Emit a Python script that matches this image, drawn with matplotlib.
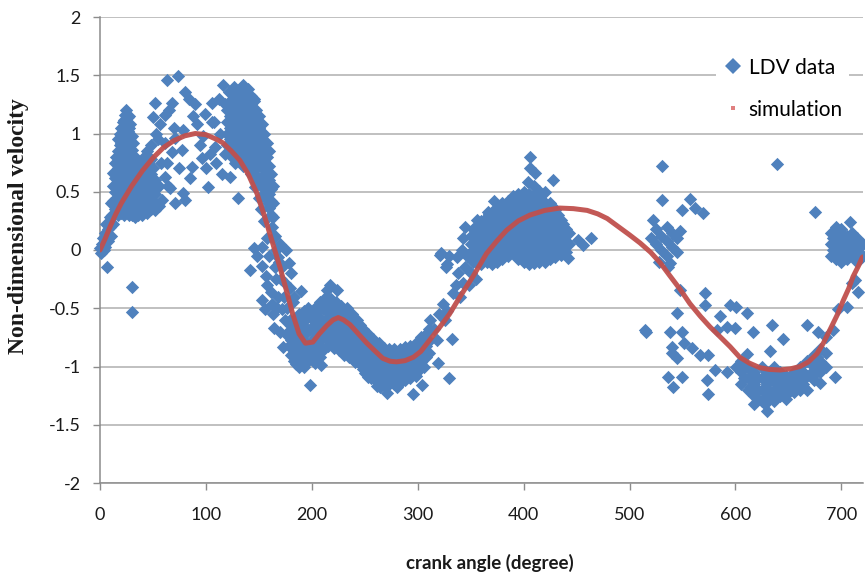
import matplotlib
matplotlib.use("Agg")
import matplotlib.pyplot as plt
from matplotlib.lines import Line2D

# ---------------- data ----------------
# LDV measurement points: (crank angle [deg], non-dimensional velocity)
ldv_points = [
    # start tail
    (0, 0.02), (1, -0.03), (2, 0.05), (3, 0.1), (4, 0.0), (5, 0.15), (6, 0.08), (7, -0.15),
    (6, 0.22), (8, 0.18), (9, 0.28), (10, 0.12), (11, 0.3), (12, 0.22), (10, 0.4),
    (12, 0.42), (12, 0.55), (12, 0.66), (30, -0.32), (30, -0.53),
    (3, 0.05), (5, 0.03), (8, 0.08), (9, 0.2), (11, 0.22), (13, 0.3),
    # first cluster with spike
    (14, 0.35), (14, 0.5), (14, 0.62), (14, 0.75),
    (17, 0.3), (17, 0.45), (17, 0.58), (17, 0.7), (17, 0.85), (17, 0.95),
    (20, 0.32), (20, 0.42), (20, 0.55), (20, 0.68), (20, 0.8), (20, 0.92), (20, 1.05),
    (23, 0.3), (23, 0.4), (23, 0.52), (23, 0.65), (23, 0.75), (23, 0.88), (23, 1.0), (23, 1.12),
    (25, 0.36), (25, 0.47), (25, 0.6), (25, 0.72), (25, 0.84), (25, 0.96), (25, 1.08), (25, 1.2),
    (27, 0.3), (27, 0.42), (27, 0.55), (27, 0.67), (27, 0.8), (27, 0.92), (27, 1.05), (27, 1.15),
    (30, 0.3), (30, 0.4), (30, 0.52), (30, 0.63), (30, 0.75), (30, 0.86), (30, 0.98),
    (33, 0.28), (33, 0.38), (33, 0.5), (33, 0.6), (33, 0.7), (33, 0.8),
    (36, 0.3), (36, 0.42), (36, 0.55), (36, 0.65), (36, 0.75),
    (40, 0.3), (40, 0.4), (40, 0.52), (40, 0.62), (40, 0.74),
    (44, 0.32), (44, 0.45), (44, 0.58), (44, 0.7), (44, 0.85),
    (48, 0.35), (48, 0.5), (48, 0.65), (48, 0.78), (48, 0.9),
    (52, 0.34), (52, 0.48), (52, 0.6), (56, 0.38), (56, 0.55),
    (50, 1.14), (53, 1.0), (55, 0.95), (52, 1.26),
    (15.5, 0.42), (15.5, 0.56), (15.5, 0.68), (15.5, 0.8),
    (18.5, 0.37), (18.5, 0.5), (18.5, 0.63), (18.5, 0.77), (18.5, 0.9), (18.5, 1.0),
    (21.5, 0.36), (21.5, 0.48), (21.5, 0.6), (21.5, 0.72), (21.5, 0.86), (21.5, 0.98), (21.5, 1.1),
    (24, 0.34), (24, 0.46), (24, 0.58), (24, 0.7), (24, 0.8), (24, 0.92), (24, 1.04), (24, 1.16),
    (26, 0.32), (26, 0.42), (26, 0.53), (26, 0.66), (26, 0.78), (26, 0.9), (26, 1.02), (26, 1.14),
    (28.5, 0.35), (28.5, 0.47), (28.5, 0.6), (28.5, 0.72), (28.5, 0.85), (28.5, 0.96), (28.5, 1.08),
    (31.5, 0.34), (31.5, 0.46), (31.5, 0.57), (31.5, 0.68), (31.5, 0.8), (31.5, 0.92),
    (34.5, 0.33), (34.5, 0.44), (34.5, 0.56), (34.5, 0.66), (34.5, 0.76),
    (38, 0.35), (38, 0.47), (38, 0.58), (38, 0.7),
    (42, 0.36), (42, 0.46), (42, 0.57), (42, 0.68), (42, 0.8),
    (46, 0.4), (46, 0.52), (46, 0.64), (46, 0.76),
    (50, 0.42), (50, 0.55), (50, 0.7),
    # scattered points 55-105 deg
    (63, 1.46), (74, 1.49), (80, 1.36), (68, 1.26), (90, 1.25), (99, 1.17), (106, 1.1),
    (61, 1.16), (78, 1.03), (71, 0.96), (61, 0.92), (77, 0.86), (94, 0.9), (87, 0.71),
    (96, 0.79), (102, 0.54), (63, 0.75), (61, 0.63), (66, 0.53), (78, 0.49), (71, 0.4),
    (80, 0.43), (59, 0.43), (57, 1.08), (65, 1.2), (70, 1.05), (84, 1.3), (88, 1.15),
    (92, 1.08), (97, 0.98), (85, 0.62), (75, 0.7), (68, 0.84), (100, 0.7), (104, 0.82),
    (58, 0.75), (64, 0.55),
    # second cluster 105-165 deg
    (116, 1.42), (122, 1.36), (135, 1.42), (140, 1.38), (130, 1.3), (127, 1.4), (145, 1.3),
    (112, 1.3), (118, 1.25),
    (120, 1.2), (120, 1.1), (120, 1.0), (120, 0.9),
    (125, 1.3), (125, 1.2), (125, 1.1), (125, 1.0), (125, 0.9), (125, 0.8),
    (130, 1.35), (130, 1.25), (130, 1.15), (130, 1.05), (130, 0.95), (130, 0.85),
    (135, 1.33), (135, 1.22), (135, 1.12), (135, 1.02), (135, 0.92), (135, 0.82), (135, 0.72),
    (140, 1.3), (140, 1.2), (140, 1.1), (140, 1.0), (140, 0.9), (140, 0.8), (140, 0.7),
    (145, 1.28), (145, 1.15), (145, 1.05), (145, 0.95), (145, 0.85), (145, 0.75), (145, 0.65),
    (150, 1.15), (150, 1.05), (150, 0.95), (150, 0.85), (150, 0.75), (150, 0.62),
    (155, 1.0), (155, 0.88), (155, 0.76), (155, 0.64), (155, 0.52),
    (160, 0.85), (160, 0.72), (160, 0.6), (160, 0.48), (160, 0.36),
    (163, 0.55), (163, 0.4), (163, 0.28),
    (110, 0.75), (115, 0.65), (123, 0.63), (130, 0.45), (118, 0.82), (109, 0.88),
    (106, 1.26), (108, 1.1), (113, 1.0),
    (122.5, 1.25), (122.5, 1.15), (122.5, 1.05), (122.5, 0.95), (122.5, 0.85),
    (127.5, 1.35), (127.5, 1.25), (127.5, 1.15), (127.5, 1.05), (127.5, 0.95), (127.5, 0.85), (127.5, 0.75),
    (132.5, 1.38), (132.5, 1.3), (132.5, 1.2), (132.5, 1.1), (132.5, 1.0), (132.5, 0.9), (132.5, 0.8),
    (137.5, 1.35), (137.5, 1.27), (137.5, 1.17), (137.5, 1.07), (137.5, 0.97), (137.5, 0.87), (137.5, 0.77),
    (142.5, 1.32), (142.5, 1.25), (142.5, 1.15), (142.5, 1.05), (142.5, 0.95), (142.5, 0.85), (142.5, 0.75), (142.5, 0.65),
    (147.5, 1.2), (147.5, 1.1), (147.5, 1.0), (147.5, 0.9), (147.5, 0.8), (147.5, 0.7), (147.5, 0.58),
    (152.5, 1.08), (152.5, 0.95), (152.5, 0.83), (152.5, 0.7), (152.5, 0.58), (152.5, 0.46),
    (157.5, 0.92), (157.5, 0.8), (157.5, 0.68), (157.5, 0.56), (157.5, 0.44),
    (161.5, 0.65), (161.5, 0.52), (161.5, 0.42), (161.5, 0.3),
    # falling band 140-185 deg
    (146, 0.54), (150, 0.45), (152, 0.35), (155, 0.25), (159, 0.4), (162, 0.2), (153, 0.03),
    (158, 0.1), (165, 0.12), (168, -0.06), (170, 0.05), (172, -0.15), (175, -0.28),
    (166, -0.25), (162, -0.46), (172, -0.51), (178, -0.11), (176, 0.0), (179, -0.33),
    (181, -0.63), (145, 0.02), (153, -0.14), (161, -0.36), (156, -0.51), (164, -0.67),
    (173, -0.83), (142, -0.17), (148, -0.05), (157, -0.22), (168, -0.4), (175, -0.6),
    (170, -0.7), (182, -0.45), (185, -0.75), (153, -0.43),
    (163, 0.1), (166, 0.0), (169, -0.1), (171, -0.25), (174, -0.4), (177, -0.5), (179, -0.6),
    (160, -0.05), (165, -0.15), (167, -0.5), (176, -0.72), (180, -0.2), (183, -0.4),
    (158, -0.3), (163, -0.55),
    # first trough 175-210 deg
    (178, -0.7), (178, -0.82),
    (183, -0.6), (183, -0.72), (183, -0.85), (183, -0.95),
    (188, -0.55), (188, -0.68), (188, -0.8), (188, -0.92), (188, -1.0),
    (193, -0.52), (193, -0.65), (193, -0.77), (193, -0.9), (193, -1.0),
    (198, -0.55), (198, -0.68), (198, -0.8), (198, -0.92),
    (203, -0.5), (203, -0.62), (203, -0.75), (203, -0.87), (203, -0.97),
    (208, -0.45), (208, -0.58), (208, -0.7), (208, -0.82), (208, -0.92),
    (196, -0.5), (198, -1.16), (209, -0.99), (190, -0.35),
    (180.5, -0.65), (180.5, -0.77), (180.5, -0.9),
    (185.5, -0.62), (185.5, -0.75), (185.5, -0.88), (185.5, -0.98),
    (190.5, -0.6), (190.5, -0.72), (190.5, -0.85), (190.5, -0.96),
    (195.5, -0.58), (195.5, -0.7), (195.5, -0.84), (195.5, -0.96),
    (200.5, -0.56), (200.5, -0.68), (200.5, -0.8), (200.5, -0.92),
    (205.5, -0.52), (205.5, -0.65), (205.5, -0.78), (205.5, -0.9),
    # hump 210-245 deg
    (213, -0.4), (213, -0.52), (213, -0.64), (213, -0.76),
    (218, -0.42), (218, -0.54), (218, -0.66), (218, -0.78),
    (223, -0.45), (223, -0.56), (223, -0.68), (223, -0.8),
    (228, -0.48), (228, -0.6), (228, -0.72), (228, -0.84),
    (233, -0.5), (233, -0.62), (233, -0.74), (233, -0.86),
    (238, -0.55), (238, -0.67), (238, -0.79), (238, -0.9),
    (243, -0.6), (243, -0.72), (243, -0.84), (243, -0.95),
    (214, -0.34), (224, -0.34), (217, -0.3),
    (210.5, -0.5), (210.5, -0.62), (210.5, -0.75), (210.5, -0.86),
    (215.5, -0.46), (215.5, -0.58), (215.5, -0.7), (215.5, -0.82),
    (220.5, -0.48), (220.5, -0.6), (220.5, -0.72), (220.5, -0.84),
    (225.5, -0.5), (225.5, -0.62), (225.5, -0.74), (225.5, -0.86),
    (230.5, -0.54), (230.5, -0.66), (230.5, -0.78), (230.5, -0.9),
    (235.5, -0.56), (235.5, -0.68), (235.5, -0.8), (235.5, -0.92),
    (240.5, -0.6), (240.5, -0.72), (240.5, -0.84), (240.5, -0.96),
    (245.5, -0.64), (245.5, -0.76), (245.5, -0.88), (245.5, -0.98),
    # second trough 245-310 deg
    (248, -0.68), (248, -0.8), (248, -0.92), (248, -1.02),
    (253, -0.72), (253, -0.84), (253, -0.96), (253, -1.06),
    (258, -0.76), (258, -0.88), (258, -1.0), (258, -1.1),
    (263, -0.8), (263, -0.9), (263, -1.0), (263, -1.1),
    (268, -0.84), (268, -0.94), (268, -1.04), (268, -1.14),
    (273, -0.85), (273, -0.95), (273, -1.05), (273, -1.15),
    (278, -0.85), (278, -0.95), (278, -1.05), (278, -1.15),
    (283, -0.85), (283, -0.95), (283, -1.05), (283, -1.14),
    (288, -0.83), (288, -0.93), (288, -1.03), (288, -1.12),
    (293, -0.82), (293, -0.92), (293, -1.02), (293, -1.1),
    (298, -0.8), (298, -0.9), (298, -1.0), (298, -1.08),
    (303, -0.75), (303, -0.86), (303, -0.96),
    (308, -0.72), (308, -0.82), (308, -0.92),
    (253, -1.09), (264, -1.18), (271, -1.23), (296, -1.24), (304, -1.16), (262, -1.17),
    (250.5, -0.74), (250.5, -0.86), (250.5, -0.98), (250.5, -1.06),
    (255.5, -0.78), (255.5, -0.9), (255.5, -1.02), (255.5, -1.1),
    (260.5, -0.82), (260.5, -0.94), (260.5, -1.05), (260.5, -1.12),
    (265.5, -0.85), (265.5, -0.95), (265.5, -1.05), (265.5, -1.15),
    (270.5, -0.88), (270.5, -1.0), (270.5, -1.1), (270.5, -1.18),
    (275.5, -0.9), (275.5, -1.0), (275.5, -1.1),
    (280.5, -0.9), (280.5, -1.0), (280.5, -1.1), (280.5, -1.18),
    (285.5, -0.9), (285.5, -1.0), (285.5, -1.1),
    (290.5, -0.88), (290.5, -0.98), (290.5, -1.08),
    (295.5, -0.86), (295.5, -0.96), (295.5, -1.06),
    (300.5, -0.82), (300.5, -0.94), (300.5, -1.04),
    (305.5, -0.78), (305.5, -0.9), (305.5, -1.0),
    (310.5, -0.68), (310.5, -0.78), (310.5, -0.88),
    # rising 310-355 deg
    (312, -0.6), (324, -0.46), (333, -0.37), (343, -0.28), (332, -0.76), (319, -0.97),
    (330, -1.1), (318, -0.77), (305, -0.86), (315, -0.68), (320, -0.55), (326, -0.6),
    (328, -0.52), (336, -0.3), (340, -0.4), (338, -0.2), (345, -0.15), (348, -0.3),
    (350, -0.2), (352, -0.1), (355, -0.25), (347, -0.05), (321, -0.04), (327, -0.15),
    (322, -0.03), (330, -0.05), (337, -0.06), (342, 0.0), (328, -0.12),
    # hill 345-465 deg
    (406, 0.8), (406, 0.7), (411, 0.66), (428, 0.6), (404, 0.58), (415, 0.51), (410, 0.55),
    (420, 0.5),
    (350, -0.05), (350, 0.05), (350, 0.12),
    (355, -0.1), (355, 0.0), (355, 0.1), (355, 0.18),
    (360, -0.12), (360, -0.02), (360, 0.08), (360, 0.18), (360, 0.25),
    (365, -0.1), (365, 0.0), (365, 0.1), (365, 0.2), (365, 0.28),
    (370, -0.12), (370, -0.02), (370, 0.08), (370, 0.18), (370, 0.28), (370, 0.33),
    (375, -0.1), (375, 0.0), (375, 0.1), (375, 0.2), (375, 0.3), (375, 0.36),
    (380, -0.08), (380, 0.02), (380, 0.12), (380, 0.22), (380, 0.32), (380, 0.4),
    (385, -0.05), (385, 0.05), (385, 0.15), (385, 0.25), (385, 0.35), (385, 0.42),
    (390, -0.02), (390, 0.08), (390, 0.18), (390, 0.28), (390, 0.38), (390, 0.46),
    (395, -0.08), (395, 0.02), (395, 0.12), (395, 0.22), (395, 0.32), (395, 0.42), (395, 0.48),
    (400, -0.1), (400, 0.0), (400, 0.1), (400, 0.2), (400, 0.3), (400, 0.4), (400, 0.5),
    (405, -0.12), (405, -0.02), (405, 0.08), (405, 0.18), (405, 0.28), (405, 0.38), (405, 0.48),
    (410, -0.11), (410, -0.01), (410, 0.09), (410, 0.19), (410, 0.29), (410, 0.39), (410, 0.47),
    (415, -0.1), (415, 0.0), (415, 0.1), (415, 0.2), (415, 0.3), (415, 0.4), (415, 0.46),
    (420, -0.1), (420, 0.0), (420, 0.1), (420, 0.2), (420, 0.3), (420, 0.4),
    (425, -0.08), (425, 0.02), (425, 0.12), (425, 0.22), (425, 0.32), (425, 0.4),
    (430, -0.06), (430, 0.04), (430, 0.14), (430, 0.24), (430, 0.34),
    (435, -0.04), (435, 0.06), (435, 0.16), (435, 0.26),
    (440, -0.02), (440, 0.08), (440, 0.18),
    (451, 0.09), (456, 0.04), (464, 0.1), (345, 0.2), (356, 0.26), (343, 0.1), (442, -0.07),
    (366, 0.33), (372, 0.42),
    (352.5, 0.0), (352.5, 0.1), (352.5, 0.18),
    (357.5, -0.05), (357.5, 0.05), (357.5, 0.15), (357.5, 0.22),
    (362.5, -0.07), (362.5, 0.03), (362.5, 0.13), (362.5, 0.23),
    (367.5, -0.05), (367.5, 0.05), (367.5, 0.15), (367.5, 0.25), (367.5, 0.31),
    (372.5, -0.07), (372.5, 0.03), (372.5, 0.13), (372.5, 0.23), (372.5, 0.33),
    (377.5, -0.05), (377.5, 0.05), (377.5, 0.15), (377.5, 0.25), (377.5, 0.35),
    (382.5, -0.03), (382.5, 0.07), (382.5, 0.17), (382.5, 0.27), (382.5, 0.37),
    (387.5, 0.0), (387.5, 0.1), (387.5, 0.2), (387.5, 0.3), (387.5, 0.4),
    (392.5, -0.05), (392.5, 0.05), (392.5, 0.15), (392.5, 0.25), (392.5, 0.35), (392.5, 0.44),
    (397.5, -0.05), (397.5, 0.07), (397.5, 0.17), (397.5, 0.27), (397.5, 0.37), (397.5, 0.46),
    (402.5, -0.07), (402.5, 0.05), (402.5, 0.15), (402.5, 0.25), (402.5, 0.35), (402.5, 0.45),
    (407.5, -0.07), (407.5, 0.03), (407.5, 0.13), (407.5, 0.23), (407.5, 0.33), (407.5, 0.43),
    (412.5, -0.06), (412.5, 0.04), (412.5, 0.14), (412.5, 0.24), (412.5, 0.34), (412.5, 0.44),
    (417.5, -0.05), (417.5, 0.05), (417.5, 0.15), (417.5, 0.25), (417.5, 0.35), (417.5, 0.43),
    (422.5, -0.05), (422.5, 0.05), (422.5, 0.15), (422.5, 0.25), (422.5, 0.35),
    (427.5, -0.03), (427.5, 0.07), (427.5, 0.17), (427.5, 0.27), (427.5, 0.37),
    (432.5, 0.0), (432.5, 0.1), (432.5, 0.2), (432.5, 0.3),
    (437.5, 0.02), (437.5, 0.12), (437.5, 0.22),
    (443, 0.05), (443, 0.15),
    # late scattered section 515-720 deg
    (531, 0.72), (639, 0.74), (531, 0.43), (557, 0.44), (562, 0.36), (550, 0.34), (569, 0.32),
    (522, 0.26), (675, 0.33), (708, 0.24), (515, -0.69),
    (520, 0.1), (525, 0.18), (525, 0.05), (530, 0.12), (530, 0.0), (535, 0.2), (535, 0.08),
    (535, -0.05), (540, 0.15), (540, 0.03), (545, 0.1), (545, -0.02), (548, 0.16),
    (528, -0.1), (538, -0.11),
    (536, -0.15), (548, -0.34), (571, -0.37), (571, -0.47), (545, -0.54), (516, -0.7),
    (538, -0.7), (550, -0.7), (551, -0.8), (540, -0.83), (540, -0.88), (559, -0.84),
    (545, -0.93), (567, -0.9), (574, -0.9), (536, -1.09), (550, -1.09), (541, -1.18),
    (574, -1.24), (573, -1.12), (581, -1.03), (592, -1.05),
    (595, -0.47), (601, -0.49), (611, -0.54), (585, -0.57), (592, -0.66), (600, -0.67),
    (583, -0.69), (617, -0.7), (635, -0.64), (645, -0.76), (668, -0.64), (678, -0.7),
    (611, -0.89), (633, -0.87), (601, -1.0),
    (605, -0.95), (605, -1.05), (605, -1.15),
    (612, -1.0), (612, -1.1), (612, -1.2),
    (618, -1.05), (618, -1.15), (618, -1.25), (618, -1.32),
    (625, -1.0), (625, -1.1), (625, -1.2), (625, -1.3),
    (630, -1.05), (630, -1.15), (630, -1.26), (630, -1.38),
    (636, -1.0), (636, -1.1), (636, -1.2), (636, -1.3),
    (642, -1.05), (642, -1.15), (642, -1.25),
    (648, -1.08), (648, -1.18), (648, -1.28),
    (655, -1.05), (655, -1.15), (655, -1.22),
    (661, -1.0), (661, -1.12), (661, -1.2),
    (668, -0.95), (668, -1.08), (668, -1.2),
    (674, -0.9), (674, -1.0), (674, -1.12),
    (680, -0.85), (680, -0.95), (680, -1.05), (680, -1.14),
    (686, -0.75), (686, -0.88), (686, -1.0), (694, -1.09), (692, -0.69),
    (697, -0.51), (705, -0.49), (710, -0.28), (716, -0.36), (713, -0.26),
    (608, -1.0), (608, -1.1), (615, -1.08), (615, -1.18), (621, -1.1), (621, -1.2),
    (621, -1.28), (628, -1.1), (628, -1.2), (628, -1.32), (633, -1.1), (633, -1.22),
    (639, -1.05), (639, -1.15), (639, -1.25), (645, -1.1), (645, -1.2), (651, -1.12),
    (651, -1.22), (658, -1.1), (658, -1.18), (664, -1.05), (664, -1.15), (671, -0.95),
    (671, -1.06), (677, -0.92), (677, -1.05),
    (690, 0.15), (690, 0.05), (690, -0.05),
    (695, 0.2), (695, 0.1), (695, 0.0), (695, -0.08),
    (700, 0.18), (700, 0.08), (700, -0.02), (700, -0.1),
    (705, 0.12), (705, 0.02), (705, -0.08),
    (710, 0.15), (710, 0.05), (710, -0.05),
    (715, 0.1), (715, 0.0), (715, -0.1),
    (720, 0.05), (720, -0.05),
    (692.5, 0.1), (692.5, 0.0), (697.5, 0.15), (697.5, 0.05), (697.5, -0.05),
    (702.5, 0.12), (702.5, 0.02), (702.5, -0.06), (707.5, 0.08), (707.5, -0.02),
    (712.5, 0.1), (712.5, 0.0), (717.5, 0.05), (717.5, -0.05),
]
ldv_angle = [p[0] for p in ldv_points]
ldv_velocity = [p[1] for p in ldv_points]

# simulation curve
sim_angle = [0, 5, 10, 15, 20, 30, 40, 50, 60, 70, 80, 90, 100, 110, 116, 124, 132, 140,
             148, 155, 160, 165, 170, 177, 182, 188, 194, 201, 207, 214, 220, 225, 230,
             236, 244, 252, 260, 267, 274, 280, 288, 296, 303, 309, 315, 321, 330, 340,
             352, 365, 375, 384, 395, 406, 420, 434, 447, 460, 470, 479, 491, 500, 510,
             520, 529, 538, 548, 557, 567, 576, 585, 595, 604, 613, 623, 632, 642, 652,
             661, 669, 677, 683, 689, 696, 702, 707, 711, 716, 720]
sim_velocity = [0.0, 0.1, 0.21, 0.31, 0.4, 0.55, 0.68, 0.79, 0.88, 0.94, 0.98, 1.0, 0.99,
                0.95, 0.92, 0.85, 0.77, 0.65, 0.49, 0.3, 0.15, 0.0, -0.15, -0.38, -0.55,
                -0.72, -0.8, -0.79, -0.72, -0.65, -0.6, -0.58, -0.6, -0.64, -0.72, -0.8,
                -0.87, -0.93, -0.955, -0.96, -0.95, -0.92, -0.87, -0.8, -0.73, -0.66,
                -0.55, -0.4, -0.23, -0.03, 0.08, 0.17, 0.25, 0.3, 0.34, 0.36, 0.355, 0.34,
                0.31, 0.27, 0.19, 0.13, 0.06, -0.02, -0.11, -0.22, -0.34, -0.46, -0.57,
                -0.66, -0.74, -0.83, -0.92, -0.97, -1.01, -1.025, -1.03, -1.02, -1.0,
                -0.96, -0.89, -0.8, -0.69, -0.56, -0.43, -0.33, -0.23, -0.14, -0.06]

x_ticks = [0, 100, 200, 300, 400, 500, 600, 700]
y_ticks = [-2, -1.5, -1, -0.5, 0, 0.5, 1, 1.5, 2]
y_tick_labels = ["-2", "-1.5", "-1", "-0.5", "0", "0.5", "1", "1.5", "2"]

# ---------------- figure ----------------
W, H = 865, 577
fig = plt.figure(figsize=(W / 100, H / 100), dpi=100)
ax = fig.add_axes([100 / W, (H - 483) / H, 762.5 / W, 466 / H])

blue = "#4F81BD"
red = "#C0504D"
grid_c = "#AFAFAF"
axis_c = "#8C8C8C"

ax.scatter(ldv_angle, ldv_velocity, marker="D", s=46, color=blue, linewidths=0,
           zorder=3, clip_on=False)
ax.plot(sim_angle, sim_velocity, color=red, lw=3.6, solid_capstyle="round", zorder=4,
        alpha=0.95)

ax.set_xlim(0, 720)
ax.set_ylim(-2, 2)
ax.set_xticks(x_ticks)
ax.set_yticks(y_ticks)
ax.set_yticklabels(y_tick_labels)
ax.yaxis.grid(True, color=grid_c, lw=1.1, zorder=0)
ax.set_axisbelow(True)
for s in ("top", "right"):
    ax.spines[s].set_visible(False)
for s in ("left", "bottom"):
    ax.spines[s].set_color(axis_c)
    ax.spines[s].set_linewidth(1.1)
ax.tick_params(axis="both", direction="out", length=5, width=1, color=axis_c,
               labelsize=13, labelcolor="#1a1a1a")
ax.tick_params(axis="x", pad=12)
ax.tick_params(axis="y", pad=9)
for lab in ax.get_xticklabels() + ax.get_yticklabels():
    lab.set_family(["Lato", "DejaVu Sans"])

fig.text(490 / W, 1 - 563 / H, "crank angle (degree)", ha="center", va="center",
         fontsize=13.5, fontweight="bold", family=["Lato", "DejaVu Sans"], color="#1a1a1a")
fig.text(19 / W, 1 - 226 / H, "Non-dimensional velocity", ha="center", va="center",
         rotation=90, fontsize=17, fontweight="bold",
         family=["Liberation Serif", "DejaVu Serif"], color="#1a1a1a")

handles = [
    Line2D([], [], marker="D", ls="none", color=blue, markersize=8, markeredgewidth=0),
    Line2D([], [], marker="s", ls="none", color="#E08080", markersize=2.5,
           markeredgewidth=0),
]
leg = ax.legend(handles, ["LDV data", "simulation"], loc="upper left",
                bbox_to_anchor=(706 / W, 1 - 41 / H), bbox_transform=fig.transFigure,
                frameon=True, fancybox=False, edgecolor="none", facecolor="white",
                framealpha=1, prop={"family": ["Lato", "DejaVu Sans"], "size": 15},
                handletextpad=0.25, handlelength=1.0, labelspacing=1.05,
                borderpad=0.3)
leg.set_zorder(5)

fig.savefig("out.png", dpi=100)
